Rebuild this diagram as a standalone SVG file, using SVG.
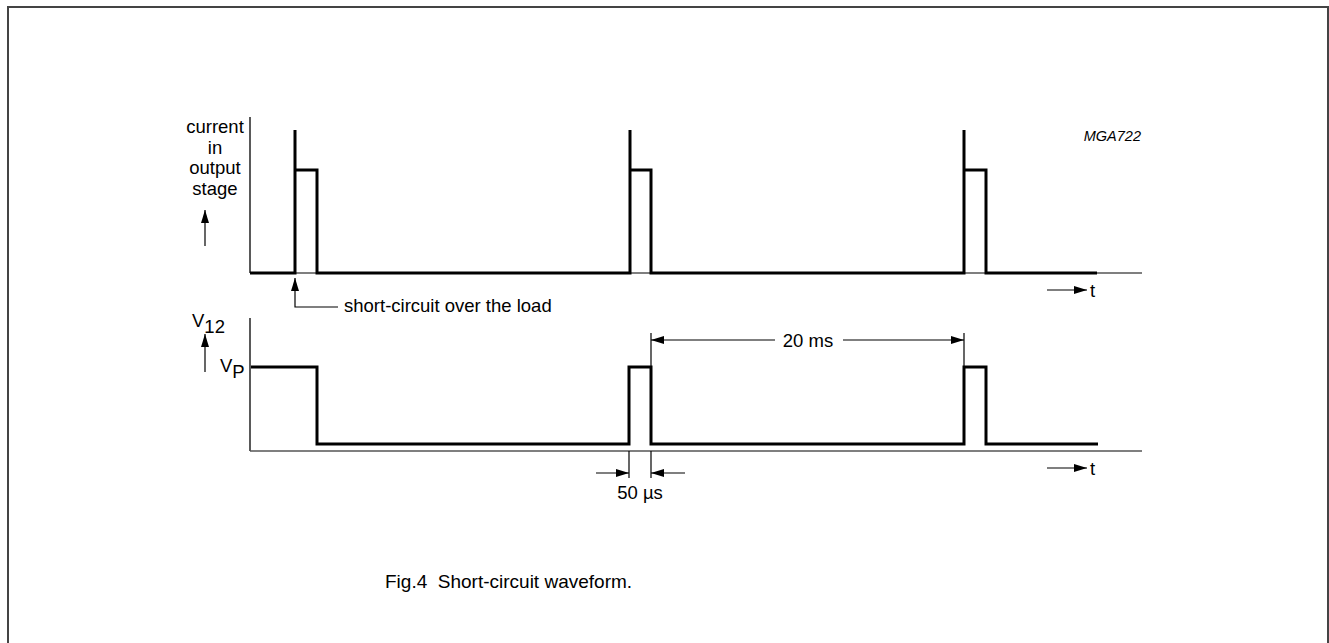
<svg xmlns="http://www.w3.org/2000/svg" width="1329" height="643" viewBox="0 0 1329 643">
<style>
.lbl{font-family:"Liberation Sans",Arial,sans-serif;font-size:18.5px;fill:#000}
.cap{font-family:"Liberation Sans",Arial,sans-serif;font-size:19px;fill:#000}
.code{font-family:"Liberation Sans",Arial,sans-serif;font-size:14.5px;font-style:italic;fill:#000}
.trace{fill:none;stroke:#000;stroke-width:3;stroke-linejoin:miter}
.axis{fill:none;stroke:#000;stroke-width:1.3}
.base{fill:none;stroke:#555;stroke-width:1.3}
.thin{fill:none;stroke:#000;stroke-width:1.2}
</style>
<defs>
<marker id="ah" viewBox="0 0 13 8" refX="13" refY="4" markerWidth="13" markerHeight="8" markerUnits="userSpaceOnUse" orient="auto">
<path d="M0,0 L13,4 L0,8 z" fill="#000"/>
</marker>
</defs>
<rect x="0" y="0" width="1329" height="643" fill="#fff"/>
<g id="frame">
<path d="M8,650 V7 H1328 V650" fill="none" stroke="#444" stroke-width="2"/>
</g>
<g id="upper-plot">
<line class="axis" x1="250" y1="117" x2="250" y2="273"/>
<line class="base" x1="250" y1="273" x2="1142" y2="273"/>
<path class="trace" d="M250,273 H295 V130 M295,170 H317 V273 H630 V130 M630,170 H651 V273 H964 V130 M964,170 H986 V273 H1097"/>
</g>
<g id="lower-plot">
<line class="axis" x1="250" y1="318" x2="250" y2="451"/>
<line class="base" x1="250" y1="451" x2="1142" y2="451"/>
<path class="trace" d="M251,367 H317 V444 H629 V367 H651 V444 H964 V367 H986 V444 H1098"/>
</g>
<g id="connectors">
<line class="thin" x1="205" y1="246" x2="205" y2="210" marker-end="url(#ah)"/>
<line class="thin" x1="205" y1="372" x2="205" y2="334" marker-end="url(#ah)"/>
<path class="thin" d="M338,307 H295 V278" marker-end="url(#ah)"/>
<line class="thin" x1="1047" y1="290" x2="1087" y2="290" marker-end="url(#ah)"/>
<line class="thin" x1="1047" y1="468" x2="1087" y2="468" marker-end="url(#ah)"/>
<line class="thin" x1="651" y1="333" x2="651" y2="367"/>
<line class="thin" x1="964" y1="333" x2="964" y2="367"/>
<line class="thin" x1="775" y1="340" x2="651" y2="340" marker-end="url(#ah)"/>
<line class="thin" x1="843" y1="340" x2="964" y2="340" marker-end="url(#ah)"/>
<line class="thin" x1="629" y1="451" x2="629" y2="478"/>
<line class="thin" x1="651" y1="451" x2="651" y2="478"/>
<line class="thin" x1="596" y1="473" x2="629" y2="473" marker-end="url(#ah)"/>
<line class="thin" x1="685" y1="473" x2="651" y2="473" marker-end="url(#ah)"/>
</g>
<g id="labels">
<text class="lbl" x="215" y="133" text-anchor="middle">current</text>
<text class="lbl" x="215" y="154" text-anchor="middle">in</text>
<text class="lbl" x="215" y="174" text-anchor="middle">output</text>
<text class="lbl" x="215" y="195" text-anchor="middle">stage</text>
<text class="code" x="1141" y="141" text-anchor="end">MGA722</text>
<text class="lbl" x="344" y="312">short-circuit over the load</text>
<text class="lbl" x="1090" y="297">t</text>
<text class="lbl" x="1090" y="475">t</text>
<text class="lbl" x="192" y="327">V<tspan y="333">12</tspan></text>
<text class="lbl" x="220" y="372">V<tspan y="378">P</tspan></text>
<text class="lbl" x="808" y="347" text-anchor="middle">20 ms</text>
<text class="lbl" x="640" y="499" text-anchor="middle">50 µs</text>
<text class="cap" x="385" y="588" xml:space="preserve">Fig.4  Short-circuit waveform.</text>
</g>
</svg>
